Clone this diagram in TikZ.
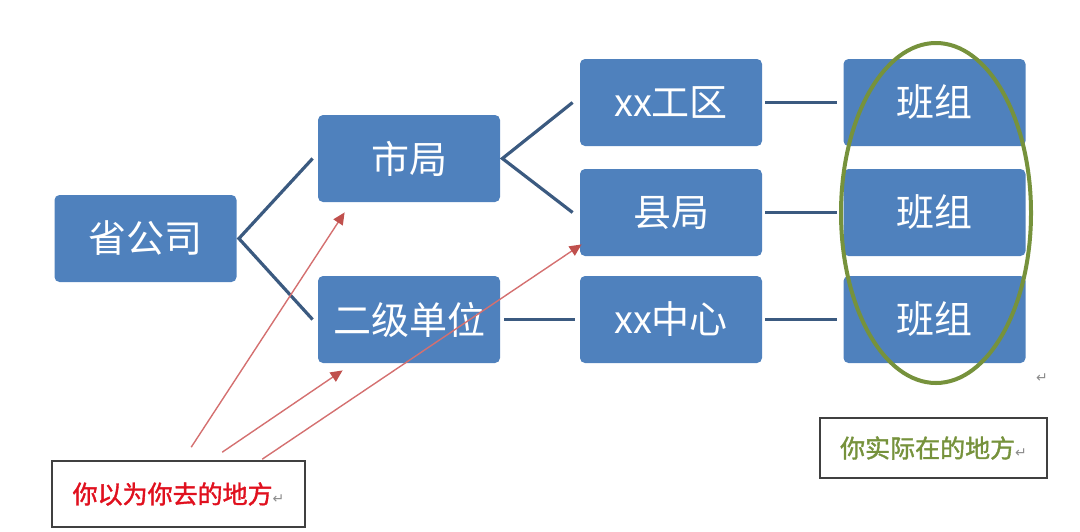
\documentclass[tikz,border=0pt]{standalone}
\usepackage{fontspec}
\setmainfont{Noto Sans CJK SC}
\newfontfamily\boldcjk[FakeBold=1.5]{Noto Sans CJK SC}
\newfontfamily\symfont{DejaVu Sans}
\usetikzlibrary{arrows.meta,shapes.geometric}
\definecolor{boxblue}{HTML}{4F81BD}
\definecolor{linkblue}{HTML}{3B5A80}
\definecolor{ringgreen}{HTML}{76923C}
\definecolor{wishred}{HTML}{D47070}
\definecolor{tipred}{HTML}{C0504D}
\definecolor{textred}{HTML}{E0101E}

\begin{document}
\begin{tikzpicture}[x=0.5pt,y=-0.5pt]
	\tikzset{unit/.style={rectangle, rounded corners=2.5pt, fill=boxblue, text=white, minimum width=91pt, minimum height=43.5pt, inner sep=0pt, font=\fontsize{19}{19}\selectfont}}
	\tikzset{link/.style={draw=linkblue, line width=1.6pt}}
	\tikzset{wish/.style={draw=wishred, line width=0.7pt, -{Triangle[length=6pt,width=5.5pt,color=tipred]}}}
	\tikzset{note/.style={draw=black!75, line width=0.8pt, inner sep=0pt, font={\boldcjk\fontsize{12.5}{12.5}\selectfont}}}
	\tikzset{retmark/.style={font={\symfont\fontsize{7}{7}\selectfont}, text=black!45, inner sep=0pt}}
	\useasboundingbox (0,0) rectangle (1080,531);
	\node[unit] (sheng) at (145.5,238.5) {省公司};
	\node[unit] (shi) at (409,158.5) {市局};
	\node[unit] (erji) at (409,319.5) {二级单位};
	\node[unit] (gongqu) at (671,102.5) {xx工区};
	\node[unit] (xian) at (671,212.5) {县局};
	\node[unit] (zhongxin) at (671,319.5) {xx中心};
	\node[unit] (banA) at (934.5,102.5) {班组};
	\node[unit] (banB) at (934.5,212.5) {班组};
	\node[unit] (banC) at (934.5,319.5) {班组};
	\draw[link] ([xshift=-2.5pt]shi.west) -- ([xshift=1pt]sheng.east) -- ([xshift=-2.5pt]erji.west);
	\draw[link] ([xshift=-3.5pt]gongqu.west) -- ([xshift=1pt]shi.east) -- ([xshift=-3.5pt]xian.west);
	\draw[link] ([xshift=2pt]erji.east) -- ([xshift=-2.5pt]zhongxin.west);
	\draw[link] ([xshift=1.5pt]gongqu.east) -- ([xshift=-3pt]banA.west);
	\draw[link] ([xshift=1.5pt]xian.east) -- ([xshift=-3pt]banB.west);
	\draw[link] ([xshift=1.5pt]zhongxin.east) -- ([xshift=-3pt]banC.west);
	\node[draw=ringgreen, line width=2pt, ellipse, minimum width=95pt, minimum height=170pt, inner sep=0pt] (ring) at (936,213) {};
	\node[retmark] (endA) at (1042,378) {↵};
	\node[note, minimum width=126.5pt, minimum height=33pt] (guess) at (178.5,494) {\textcolor{textred}{你以为你去的地方}{\symfont\color{black!45}\fontsize{7}{7}\selectfont ↵}};
	\node[note, minimum width=113.5pt, minimum height=30pt] (real) at (933.5,448) {\textcolor{ringgreen}{你实际在的地方}{\symfont\color{black!45}\fontsize{7}{7}\selectfont ↵}};
	\draw[wish] ([xshift=70pt,yshift=6.5pt]guess.north west) -- ([xshift=13.5pt,yshift=-5pt]shi.south west);
	\draw[wish] ([xshift=85.5pt,yshift=4pt]guess.north west) -- ([xshift=12.5pt,yshift=-3.5pt]erji.south west);
	\draw[wish] ([xshift=105.5pt,yshift=0.5pt]guess.north west) -- ([xshift=1pt,yshift=6pt]xian.south west);
\end{tikzpicture}
\end{document}
